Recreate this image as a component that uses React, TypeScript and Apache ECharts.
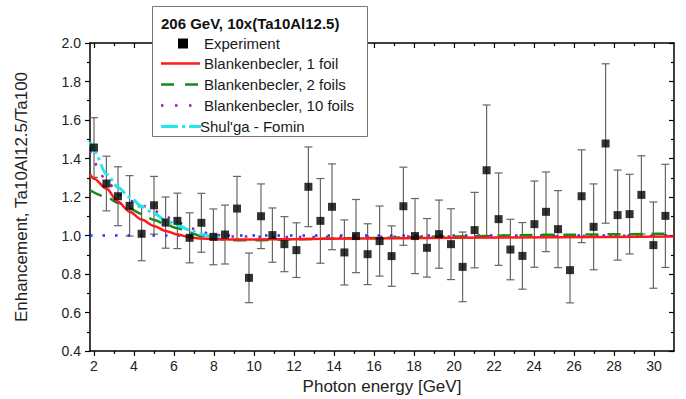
import React, { useEffect, useRef } from "react";
import * as echarts from "echarts";

const FONT = '"Liberation Sans", Arial, sans-serif';

// Experimental points
const expX = [2.0, 2.62, 3.2, 3.78, 4.38, 5.0, 5.58, 6.17, 6.78, 7.37, 7.97, 8.55, 9.15, 9.75, 10.35, 10.92, 11.52, 12.12, 12.72, 13.32, 13.9, 14.52, 15.1, 15.68, 16.28, 16.88, 17.47, 18.05, 18.65, 19.25, 19.85, 20.43, 21.03, 21.63, 22.23, 22.82, 23.42, 24.02, 24.6, 25.2, 25.8, 26.38, 26.98, 27.58, 28.18, 28.78, 29.37, 29.97, 30.57];
const expY = [1.457, 1.270, 1.204, 1.154, 1.009, 1.157, 1.067, 1.076, 0.988, 1.066, 0.993, 1.005, 1.140, 0.780, 1.100, 1.002, 0.955, 0.924, 1.253, 1.076, 1.149, 0.912, 0.997, 0.903, 0.971, 0.893, 1.152, 0.997, 0.936, 1.007, 0.955, 0.837, 1.028, 1.339, 1.085, 0.927, 0.894, 1.059, 1.123, 1.033, 0.820, 1.204, 1.045, 1.478, 1.106, 1.111, 1.211, 0.950, 1.102];
const expErr = [0.155, 0.142, 0.153, 0.157, 0.140, 0.150, 0.133, 0.144, 0.130, 0.153, 0.145, 0.153, 0.167, 0.129, 0.168, 0.141, 0.143, 0.142, 0.207, 0.220, 0.223, 0.169, 0.190, 0.158, 0.182, 0.157, 0.203, 0.195, 0.152, 0.177, 0.184, 0.181, 0.196, 0.339, 0.240, 0.157, 0.173, 0.224, 0.207, 0.200, 0.170, 0.241, 0.223, 0.414, 0.234, 0.207, 0.203, 0.224, 0.268];

// Model curves
const oneFoilX = [1.8, 2.0, 2.62, 3.2, 3.78, 4.38, 5.0, 5.58, 6.17, 6.78, 7.37, 7.97, 9, 10, 12, 15, 20, 25, 31];
const oneFoilY = [1.318, 1.295, 1.244, 1.175, 1.123, 1.083, 1.05, 1.024, 1.005, 0.991, 0.984, 0.981, 0.979, 0.979, 0.981, 0.984, 0.988, 0.991, 0.995];
const twoFoilX = [1.8, 2.62, 3.2, 3.78, 4.38, 5.0, 5.58, 6.17, 6.78, 7.37, 7.97, 9, 10, 12, 15, 20, 25, 31];
const twoFoilY = [1.235, 1.2, 1.17, 1.14, 1.112, 1.081, 1.058, 1.038, 1.016, 0.995, 0.983, 0.976, 0.975, 0.98, 0.986, 0.995, 1.004, 1.01];
const tenFoilX = [1.8, 2.62, 3.2, 3.78, 4.38, 5.0, 5.58, 6.17, 6.78, 7.37, 7.97, 9, 12, 20, 31];
const tenFoilY = [1.44, 1.29, 1.215, 1.18, 1.157, 1.128, 1.098, 1.07, 1.04, 1.018, 1.003, 0.995, 0.992, 0.995, 1.0];
const shulgaX = [1.8, 2.0, 2.62, 3.2, 3.78, 4.38, 5.0, 5.58, 6.17, 6.78, 7.37, 7.97, 8.6];
const shulgaY = [1.486, 1.44, 1.32, 1.25, 1.2, 1.152, 1.114, 1.08, 1.054, 1.028, 1.007, 0.993, 0.988];
const baseX = [1.8, 31];
const baseY = [1.0, 1.0];

// Axis ticks
const xMajor = [2, 4, 6, 8, 10, 12, 14, 16, 18, 20, 22, 24, 26, 28, 30];
const xMinor = [3, 5, 7, 9, 11, 13, 15, 17, 19, 21, 23, 25, 27, 29];

const legendTitle = "206 GeV, 10x(Ta10Al12.5)";
const seriesNames = ["Experiment", "Blankenbecler, 1 foil", "Blankenbecler, 2 foils", "Blankenbecler, 10 foils", "Shul'ga - Fomin"];

const COLORS = {
  red: "#ff1a1a",
  green: "#168c16",
  purple: "#9a1ea8",
  cyan: "#22e6f0",
  blue: "#2233ff",
};

const zip = (xs: number[], ys: number[]) => xs.map((x, i) => [x, ys[i]]);

export default function App() {
  const ref = useRef<HTMLDivElement>(null);

  useEffect(() => {
    document.body.style.margin = "0";
    if (!ref.current) return;
    const chart = echarts.init(ref.current, undefined, { renderer: "svg" });

    const axisLine = { show: true, lineStyle: { color: "#000", width: 1.5 } };
    const tickStyle = { color: "#000", width: 1.2 };
    const xBase = { type: "value", min: 1.8, max: 31, splitLine: { show: false } };
    const yBase = { type: "value", min: 0.4, max: 2.0, interval: 0.2, splitLine: { show: false } };

    const legendLineY = [63.5, 84.5, 105.5, 126.5];
    const legendText = (x: number, y: number, text: string) => ({
      type: "text",
      z: 101,
      x,
      y,
      style: { text, fontSize: 15, fontFamily: FONT, fill: "#1a1a1a", verticalAlign: "middle" },
    });

    const option: any = {
      animation: false,
      backgroundColor: "#fff",
      grid: { left: 90, right: 12, top: 43, bottom: 48, containLabel: false, outerBoundsMode: "none" },
      xAxis: [
        {
          ...xBase,
          position: "bottom",
          axisLine,
          axisTick: { show: true, customValues: xMajor, length: 5, lineStyle: tickStyle },
          axisLabel: { show: true, customValues: xMajor, margin: 8, fontSize: 14, color: "#222", fontFamily: FONT },
          name: "Photon energy [GeV]",
          nameLocation: "middle",
          nameGap: 25,
          nameTextStyle: { fontSize: 17, color: "#222", fontFamily: FONT },
        },
        {
          ...xBase,
          position: "bottom",
          axisLine: { show: false },
          axisTick: { show: true, customValues: xMinor, length: 3, lineStyle: tickStyle },
          axisLabel: { show: false },
        },
        {
          ...xBase,
          position: "top",
          axisLine,
          axisTick: { show: true, inside: true, customValues: xMajor, length: 5, lineStyle: tickStyle },
          axisLabel: { show: false },
        },
        {
          ...xBase,
          position: "top",
          axisLine: { show: false },
          axisTick: { show: true, inside: true, customValues: xMinor, length: 3, lineStyle: tickStyle },
          axisLabel: { show: false },
        },
      ],
      yAxis: [
        {
          ...yBase,
          position: "left",
          axisLine,
          axisTick: { show: true, length: 5, lineStyle: tickStyle },
          minorTick: { show: true, splitNumber: 2, length: 3, lineStyle: tickStyle },
          axisLabel: { show: true, margin: 9, fontSize: 14, color: "#222", fontFamily: FONT, formatter: (v: number) => v.toFixed(1) },
          name: "Enhancement, Ta10Al12.5/Ta100",
          nameLocation: "middle",
          nameGap: 60,
          nameTextStyle: { fontSize: 17, color: "#222", fontFamily: FONT },
        },
        {
          ...yBase,
          position: "right",
          axisLine,
          axisTick: { show: true, inside: true, length: 5, lineStyle: tickStyle },
          minorTick: { show: true, splitNumber: 2, length: 3, lineStyle: tickStyle },
          axisLabel: { show: false },
        },
      ],
      series: [
        {
          type: "custom",
          name: "errors",
          z: 2,
          xAxisIndex: 0,
          yAxisIndex: 0,
          encode: { x: 0, y: 1 },
          data: expX.map((x, i) => [x, expY[i], expErr[i]]),
          renderItem: (params: any, api: any) => {
            const x = api.value(0);
            const y = api.value(1);
            const e = api.value(2);
            const top = api.coord([x, y + e]);
            const bot = api.coord([x, y - e]);
            const hw = 4;
            const st = { stroke: "#666", lineWidth: 1.2 };
            return {
              type: "group",
              children: [
                { type: "line", shape: { x1: top[0], y1: top[1], x2: bot[0], y2: bot[1] }, style: st },
                { type: "line", shape: { x1: top[0] - hw, y1: top[1], x2: top[0] + hw, y2: top[1] }, style: st },
                { type: "line", shape: { x1: bot[0] - hw, y1: bot[1], x2: bot[0] + hw, y2: bot[1] }, style: st },
              ],
            };
          },
        },
        {
          type: "line",
          name: "base",
          z: 3,
          data: zip(baseX, baseY),
          showSymbol: false,
          lineStyle: { color: COLORS.blue, width: 2.5, type: [2.5, 10] },
        },
        {
          type: "line",
          name: seriesNames[3],
          z: 3,
          data: zip(tenFoilX, tenFoilY),
          smooth: 0.3,
          smoothMonotone: "x",
          showSymbol: false,
          lineStyle: { color: COLORS.purple, width: 2.5, type: [2.5, 11] },
        },
        {
          type: "line",
          name: seriesNames[2],
          z: 3,
          data: zip(twoFoilX, twoFoilY),
          smooth: 0.3,
          smoothMonotone: "x",
          showSymbol: false,
          lineStyle: { color: COLORS.green, width: 2.5, type: [13, 9] },
        },
        {
          type: "line",
          name: seriesNames[4],
          z: 3,
          data: zip(shulgaX, shulgaY),
          smooth: 0.3,
          smoothMonotone: "x",
          showSymbol: false,
          lineStyle: { color: COLORS.cyan, width: 3, type: [14, 4, 3, 4] },
        },
        {
          type: "line",
          name: seriesNames[1],
          z: 3,
          data: zip(oneFoilX, oneFoilY),
          smooth: 0.3,
          smoothMonotone: "x",
          showSymbol: false,
          lineStyle: { color: COLORS.red, width: 2.5 },
        },
        {
          type: "scatter",
          name: seriesNames[0],
          z: 4,
          data: zip(expX, expY),
          symbol: "rect",
          symbolSize: 8,
          itemStyle: { color: "#000" },
        },
      ],
      graphic: [
        {
          type: "group",
          z: 100,
          children: [
            { type: "rect", z: 100, shape: { x: 152.5, y: 6.5, width: 215, height: 130 }, style: { fill: "#fff", stroke: "#777", lineWidth: 1 } },
            { type: "text", z: 101, x: 161, y: 23, style: { text: legendTitle, fontSize: 15, fontWeight: "bold", fontFamily: FONT, fill: "#111", verticalAlign: "middle" } },
            { type: "rect", z: 101, shape: { x: 178, y: 38.5, width: 10, height: 10 }, style: { fill: "#000" } },
            legendText(204, 43.5, seriesNames[0]),
            { type: "line", z: 101, shape: { x1: 161, y1: legendLineY[0], x2: 200, y2: legendLineY[0] }, style: { stroke: COLORS.red, lineWidth: 2.5 } },
            legendText(204, legendLineY[0], seriesNames[1]),
            { type: "line", z: 101, shape: { x1: 161, y1: legendLineY[1], x2: 201, y2: legendLineY[1] }, style: { stroke: COLORS.green, lineWidth: 2.5, lineDash: [13, 11] } },
            legendText(204, legendLineY[1], seriesNames[2]),
            { type: "line", z: 101, shape: { x1: 161, y1: legendLineY[2], x2: 200, y2: legendLineY[2] }, style: { stroke: COLORS.purple, lineWidth: 2.5, lineDash: [2.5, 11.5] } },
            legendText(204, legendLineY[2], seriesNames[3]),
            { type: "line", z: 101, shape: { x1: 161, y1: legendLineY[3], x2: 201, y2: legendLineY[3] }, style: { stroke: COLORS.cyan, lineWidth: 3, lineDash: [17, 4, 3, 4] } },
            legendText(200, legendLineY[3], seriesNames[4]),
          ],
        },
      ],
    };

    chart.setOption(option);
    return () => chart.dispose();
  }, []);

  return <div ref={ref} style={{ width: 686, height: 399 }} />;
}
